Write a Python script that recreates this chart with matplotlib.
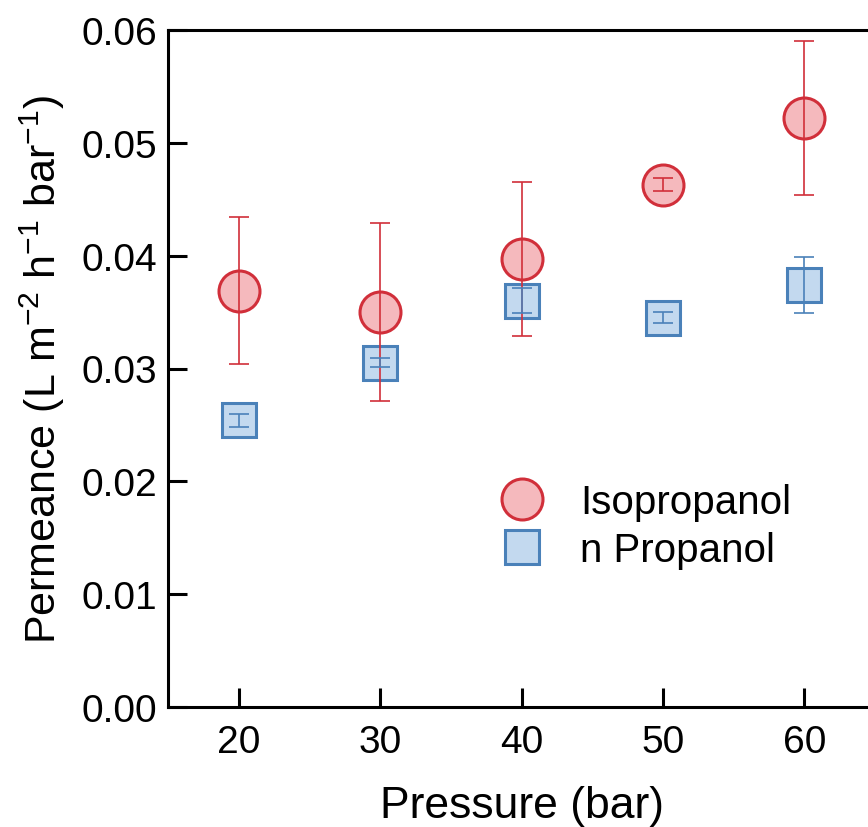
import numpy as np
import matplotlib.pyplot as plt

pressure = [20, 30, 40, 50, 60]
iso_perm = [0.0369, 0.0350, 0.0397, 0.0463, 0.0522]
iso_err = [0.0065, 0.0079, 0.0068, 0.0006, 0.0068]
npro_perm = [0.0254, 0.0305, 0.0360, 0.0345, 0.0374]
npro_err = [0.0006, 0.0004, 0.0011, 0.0005, 0.0025]

iso_face, iso_edge = '#f5b9bd', '#d12f3a'
np_face, np_edge = '#c3d9ef', '#4a81b9'

plt.rcParams['font.family'] = ['Liberation Sans', 'DejaVu Sans']
plt.rcParams['mathtext.fontset'] = 'custom'
plt.rcParams['mathtext.rm'] = 'Liberation Sans'
plt.rcParams['mathtext.default'] = 'regular'

fig = plt.figure(figsize=(8.68, 8.28), dpi=100)
ax = fig.add_axes([168 / 868, 120 / 828, 707 / 868, 677 / 828])

ax.plot(pressure, iso_perm, 'o', ms=29.5, mfc=iso_face, mec=iso_edge, mew=2.2,
        label='Isopropanol', zorder=2)
ax.plot(pressure, npro_perm, 's', ms=25, mfc=np_face, mec=np_edge, mew=2.2,
        label='n Propanol', zorder=2)
ax.errorbar(pressure, iso_perm, yerr=iso_err, fmt='none', ecolor=iso_edge,
            elinewidth=1.2, capsize=7.5, capthick=1.2, zorder=3)
ax.errorbar(pressure, npro_perm, yerr=npro_err, fmt='none', ecolor=np_edge,
            elinewidth=1.2, capsize=7.5, capthick=1.2, zorder=3)

ax.set_xlim(15, 65)
ax.set_ylim(0, 0.06)
ax.set_xticks(pressure)
ax.set_yticks(np.arange(0, 0.061, 0.01))
ax.yaxis.set_major_formatter(plt.FormatStrFormatter('%.2f'))
ax.tick_params(direction='in', length=14, width=2.2, labelsize=28, pad=8)
ax.tick_params(axis='x', pad=12)
for s in ax.spines.values():
    s.set_linewidth(2.2)
ax.spines['right'].set_visible(False)

ax.set_xlabel('Pressure (bar)', fontsize=32, labelpad=18)
ax.set_ylabel('Permeance (L m$^{-2}$ h$^{-1}$ bar$^{-1}$)', fontsize=31, labelpad=10)

ax.legend(loc='upper left', bbox_to_anchor=(0.415, 0.385), frameon=False,
          fontsize=29, handletextpad=0.85, labelspacing=0.25, markerscale=1.0,
          handlelength=1.2)

fig.savefig('out.png', dpi=100)
